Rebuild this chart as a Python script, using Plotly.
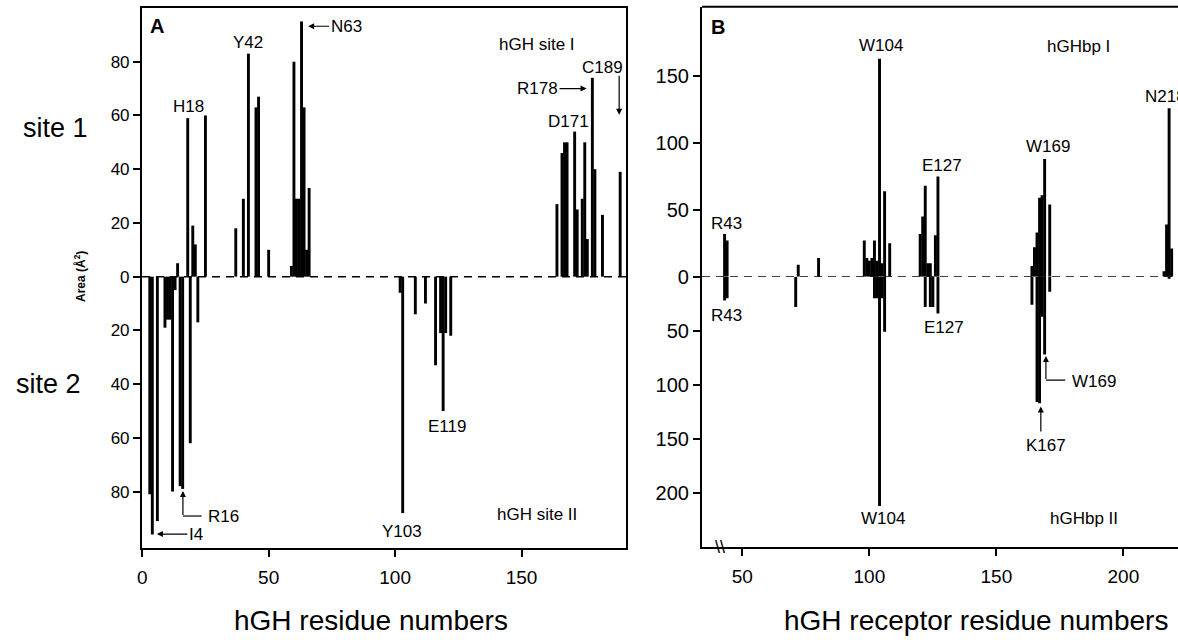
import plotly.graph_objects as go

# A: hGH residues, buried area (A^2) at site I (up) and site II (down)
hgh_site1_res = [14, 18, 20, 21, 25, 37, 40, 42, 45, 46, 50, 59, 60, 61, 62, 63, 64, 65, 66,
                 164, 166, 167, 168, 171, 172, 174, 175, 176, 178, 179, 182, 189]
hgh_site1_area = [5, 59, 19, 12, 60, 18, 29, 83, 63, 67, 10, 4, 80, 29, 29, 95, 63, 10, 33,
                  27, 46, 50, 50, 54, 25, 29, 50, 14, 74, 40, 23, 39]
hgh_site2_res = [3, 4, 6, 9, 10, 11, 12, 13, 15, 16, 19, 22,
                 102, 103, 108, 112, 116, 118, 119, 120, 122]
hgh_site2_area = [81, 96, 91, 19, 16, 16, 80, 5, 78, 79, 62, 17,
                  6, 88, 14, 10, 33, 21, 50, 21, 22]

# B: receptor residues, buried area in hGHbp I (up) and hGHbp II (down)
bp1_res = [43, 44, 72, 80, 98, 99, 100, 101, 102, 103, 104, 105, 106, 108,
           120, 121, 122, 123, 124, 126, 127, 164, 165, 166, 167, 168, 169, 171,
           216, 217, 218, 219]
bp1_area = [32, 27, 9, 14, 27, 14, 12, 14, 27, 12, 163, 10, 64, 25,
            32, 45, 68, 10, 10, 31, 75, 8, 22, 33, 59, 61, 88, 54,
            4, 39, 126, 21]
bp2_res = [43, 44, 71, 102, 103, 104, 105, 106, 122, 124, 125, 127,
           164, 166, 167, 168, 169, 171, 218]
bp2_area = [22, 20, 28, 20, 20, 212, 20, 51, 28, 28, 28, 34,
            26, 116, 117, 37, 72, 14, 2]

a_xticks = [0, 50, 100, 150]
a_yvals = [-80, -60, -40, -20, 0, 20, 40, 60, 80]
a_ytext = ['80', '60', '40', '20', '0', '20', '40', '60', '80']
b_xticks = [50, 100, 150, 200]
b_up_ticks = [0, 50, 100, 150]
b_down_ticks = [50, 100, 150, 200]

FONT = "Liberation Sans"

fig = go.Figure()
bar = dict(width=1.15, marker=dict(color='black', line_width=0), hoverinfo='skip')
fig.add_trace(go.Bar(x=hgh_site1_res, y=hgh_site1_area, xaxis='x', yaxis='y', **bar))
fig.add_trace(go.Bar(x=hgh_site2_res, y=[-v for v in hgh_site2_area], xaxis='x', yaxis='y', **bar))
fig.add_trace(go.Bar(x=bp1_res, y=bp1_area, xaxis='x2', yaxis='y2', **bar))
fig.add_trace(go.Bar(x=bp2_res, y=bp2_area, xaxis='x2', yaxis='y3', **bar))

ax_style = dict(showline=True, linecolor='black', linewidth=2, ticks='outside', ticklen=7,
                tickwidth=1.5, tickcolor='black', showgrid=False, zeroline=False,
                automargin=False, fixedrange=True)

fig.update_layout(
    width=1178, height=640, margin=dict(l=0, r=0, t=0, b=0),
    paper_bgcolor='white', plot_bgcolor='white', showlegend=False, barmode='overlay',
    font=dict(family=FONT, color='black'),
    xaxis=dict(domain=[0.1205, 0.5314], range=[-0.1, 191.3], anchor='y', mirror=True,
               tickvals=a_xticks, tickfont=dict(size=19), ticklabelstandoff=4, **ax_style),
    yaxis=dict(domain=[0.14375, 0.9875], range=[-101, 100], anchor='x', mirror=True,
               tickvals=a_yvals, ticktext=a_ytext, tickfont=dict(size=17), **ax_style),
    xaxis2=dict(domain=[0.5959, 1.0], range=[34.1, 221.5], anchor='y3',
                tickvals=b_xticks, tickfont=dict(size=19), ticklabelstandoff=4, **ax_style),
    yaxis2=dict(domain=[0.5677, 0.9896], range=[0, 202], anchor='x2',
                tickvals=b_up_ticks, tickfont=dict(size=20), **ax_style),
    yaxis3=dict(domain=[0.1453, 0.5677], range=[250, 0], anchor='x2',
                tickvals=b_down_ticks, tickfont=dict(size=20), **ax_style),
)

dash = dict(color='black', width=1.5, dash='8px,6px')
fig.add_shape(type='line', xref='x domain', x0=0, x1=1, yref='y', y0=0, y1=0, line=dash)
fig.add_shape(type='line', xref='x2 domain', x0=0, x1=1, yref='y2', y0=0, y1=0, line=dash)
fig.add_shape(type='line', xref='x2 domain', x0=0, x1=1, yref='y2 domain', y0=1, y1=1,
              line=dict(color='black', width=2))
# elbow leader lines
fig.add_shape(type='line', xref='x', yref='y', x0=16.1, x1=23.5, y0=-89.1, y1=-89.1,
              line=dict(color='black', width=1.2))
fig.add_shape(type='line', xref='x2', yref='y3', x0=169.5, x1=177.1, y0=95.6, y1=95.6,
              line=dict(color='black', width=1.2))


def lab(text, x, y, xr='x', yr='y', size=17, xanchor='center', yanchor='middle', **kw):
    fig.add_annotation(text=text, x=x, y=y, xref=xr, yref=yr, showarrow=False,
                       xanchor=xanchor, yanchor=yanchor,
                       font=dict(size=size, family=FONT, color='black'), **kw)


def arr(x, y, ax, ay, text=None, xr='x', yr='y', size=17):
    # text=None -> plain arrow, tail exactly at (ax, ay)
    fig.add_annotation(text=text if text else ' ', x=x, y=y, xref=xr, yref=yr, ax=ax, ay=ay,
                       showarrow=True, arrowhead=2, arrowsize=1, arrowwidth=1.2,
                       arrowcolor='black', borderpad=0 if not text else 1,
                       font=dict(size=size if text else 1, family=FONT, color='black'))


# panel A labels
lab('<b>A</b>', 2.3, 93.4, size=20, xanchor='left')
lab('H18', 18.2, 63.2)
lab('Y42', 41.9, 87.2)
arr(65.6, 93.2, 38, 0, 'N63')
lab('hGH site I', 156.2, 86.4)
arr(175.7, 70, -49, 0, 'R178')
lab('D171', 168.4, 57.8)
lab('C189', 182, 77.8)
arr(188.6, 60.3, 0, -40)
lab('Y103', 102.7, -95)
lab('E119', 120.5, -55.6)
lab('hGH site II', 156, -88.7)
arr(5.8, -95.8, 39, 0, 'I4')
arr(16.1, -79.8, 0, 25)
lab('R16', 32.3, -89.1)

# panel B labels
lab('<b>B</b>', 0.015, 0.958, xr='x2 domain', yr='paper', size=20, xanchor='left')
lab('R43', 43.7, 40, xr='x2', yr='y2')
lab('W104', 104.5, 173.3, xr='x2', yr='y2')
lab('hGHbp I', 182.3, 172, xr='x2', yr='y2')
lab('E127', 128.7, 83.5, xr='x2', yr='y2')
lab('W169', 170.4, 97.2, xr='x2', yr='y2')
lab('N218', 207.6, 134.6, xr='x2', yr='y2', xanchor='left')
lab('R43', 43.7, 35.5, xr='x2', yr='y3')
lab('E127', 129.5, 46.9, xr='x2', yr='y3')
lab('W104', 105.5, 223.7, xr='x2', yr='y3')
lab('hGHbp II', 184.3, 223.7, xr='x2', yr='y3')
lab('K167', 169.5, 156, xr='x2', yr='y3')
arr(167.5, 120, 0, 26, xr='x2', yr='y3')
lab('W169', 188.3, 97, xr='x2', yr='y3')
arr(169.5, 73.4, 0, 24, xr='x2', yr='y3')

# axis break mark
lab('\\\\', 720 / 1178, 1 - 547 / 640, xr='paper', yr='paper', size=18)

# outer labels
lab('site 1', 90 / 1178, 1 - 128 / 640, xr='paper', yr='paper', size=27, xanchor='right')
lab('site 2', 83 / 1178, 1 - 384 / 640, xr='paper', yr='paper', size=27, xanchor='right')
lab('<b>Area (Å<sup>2</sup>)</b>', 80 / 1178, 1 - 277 / 640, xr='paper', yr='paper',
    size=12, textangle=-90)
lab('hGH residue numbers', 371 / 1178, 1 - 620 / 640, xr='paper', yr='paper', size=28)
lab('hGH receptor residue numbers', 976 / 1178, 1 - 620 / 640, xr='paper', yr='paper', size=28)

fig.write_html("out.html", config={'displayModeBar': False},
               post_script="document.body.style.margin='0';")
